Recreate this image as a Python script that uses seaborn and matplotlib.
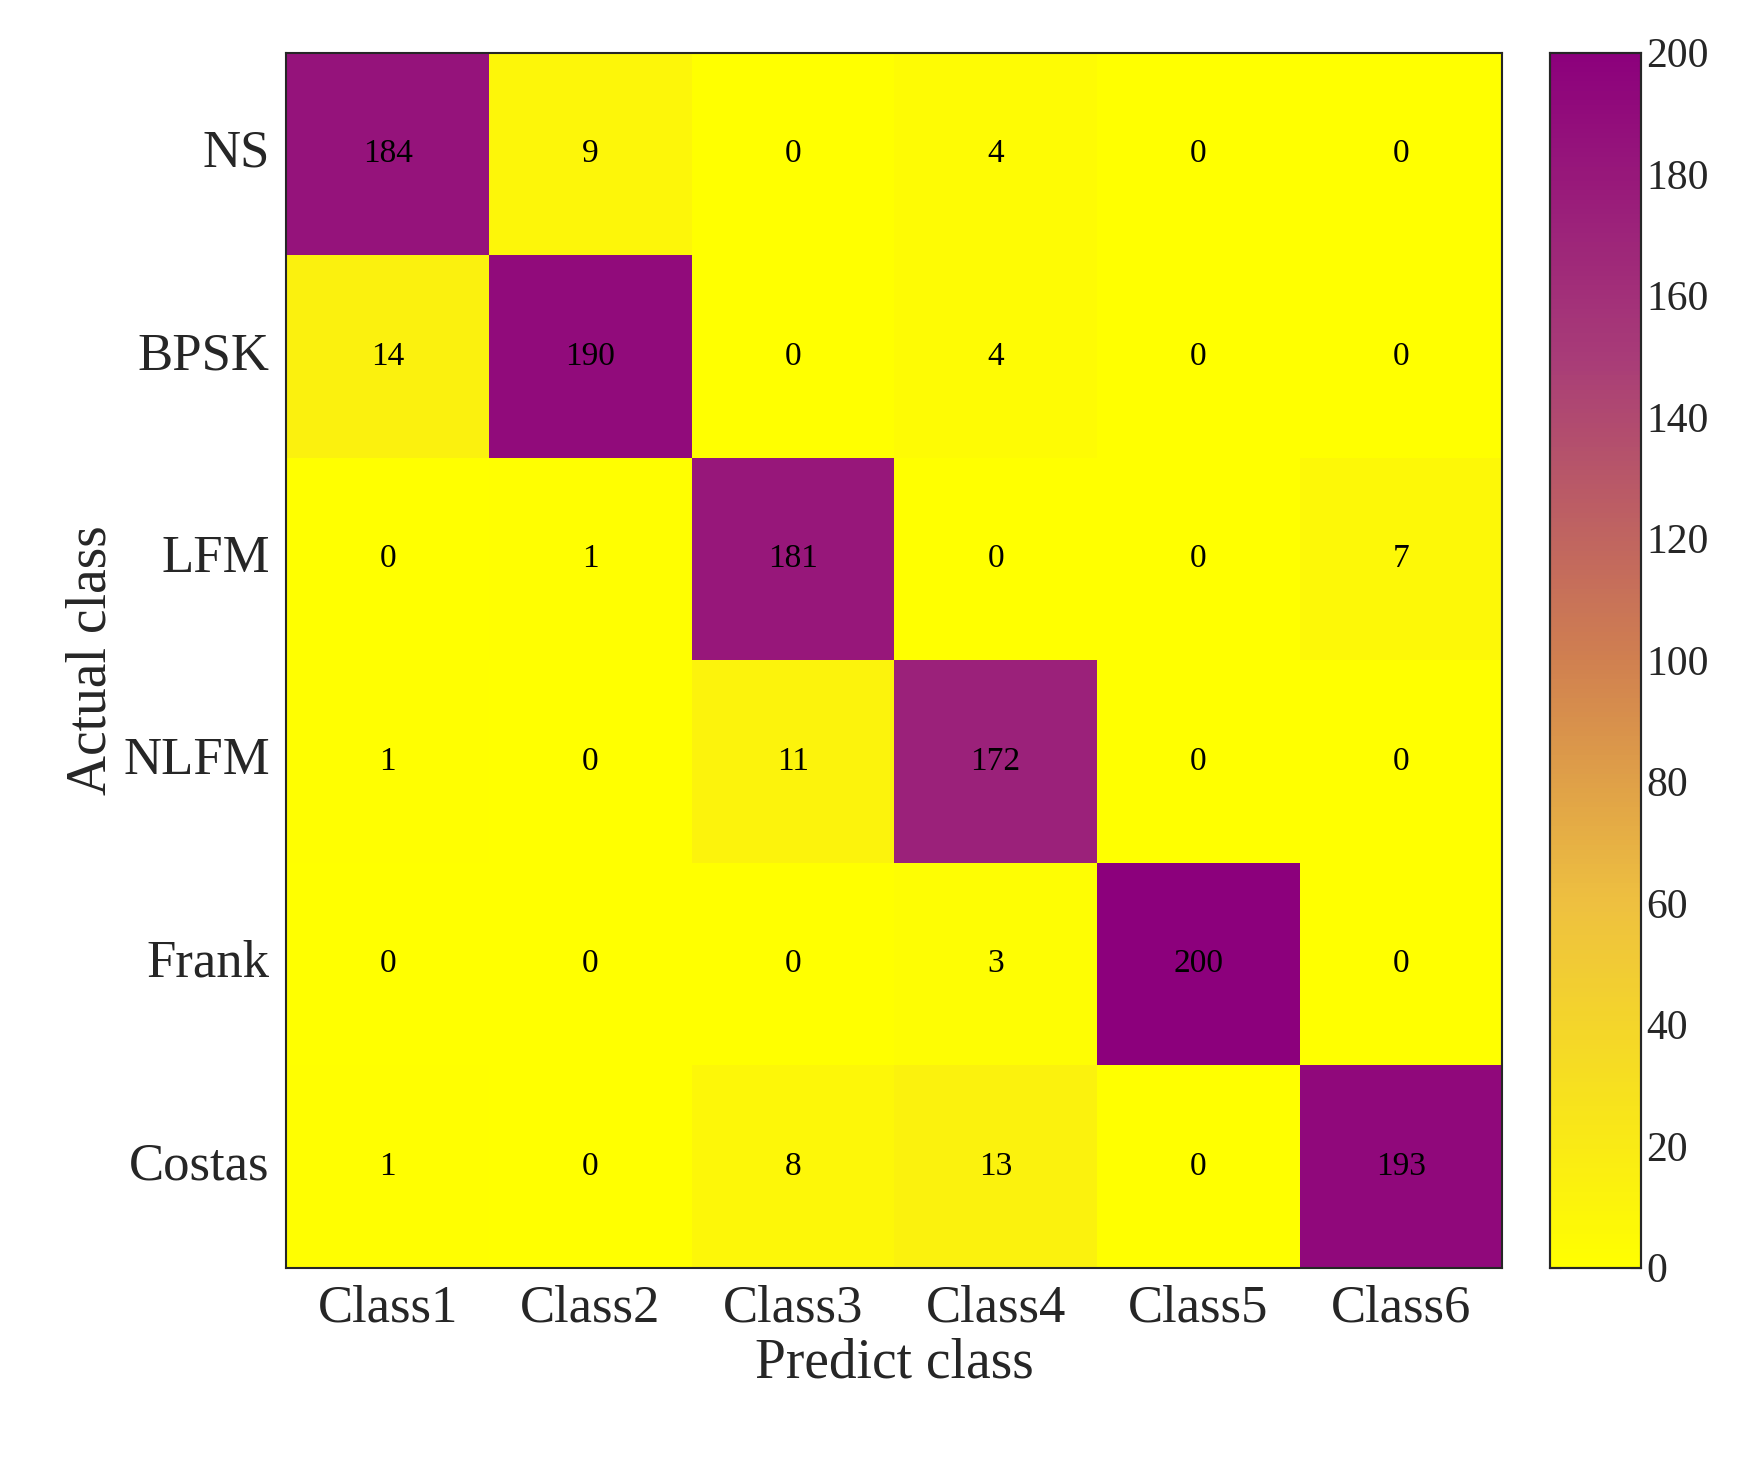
import numpy as np
import seaborn as sns
import matplotlib.pyplot as plt
from matplotlib.colors import LinearSegmentedColormap

rows = ["NS", "BPSK", "LFM", "NLFM", "Frank", "Costas"]
cols = ["Class1", "Class2", "Class3", "Class4", "Class5", "Class6"]
ns = [184, 9, 0, 4, 0, 0]
bpsk = [14, 190, 0, 4, 0, 0]
lfm = [0, 1, 181, 0, 0, 7]
nlfm = [1, 0, 11, 172, 0, 0]
frank = [0, 0, 0, 3, 200, 0]
costas = [1, 0, 8, 13, 0, 193]
data = np.array([ns, bpsk, lfm, nlfm, frank, costas])

sns.set_style("white")
plt.rcParams['font.family'] = ['Liberation Serif', 'DejaVu Serif']

cmap = LinearSegmentedColormap.from_list("ym", [(0, "#ffff00"), (0.3, "#eec040"), (0.5, "#d08050"), (0.75, "#a83c78"), (1, "#8c007c")])

fig = plt.figure(figsize=(17.57, 14.62), dpi=100)
ax = fig.add_axes([0.163, 0.133, 0.692, 0.831])
cax = fig.add_axes([0.882, 0.133, 0.052, 0.831])
sns.heatmap(data, ax=ax, cbar_ax=cax, cmap=cmap, vmin=0, vmax=200, annot=True, fmt="d",
            annot_kws={"fontsize": 24, "color": "black"}, xticklabels=cols, yticklabels=rows)
ax.set_xlabel("Predict class", fontsize=40)
ax.set_ylabel("Actual class", fontsize=40)
ax.tick_params(axis='both', labelsize=38, direction='in', length=10, width=1.5,
               top=True, right=True, bottom=True, left=True, pad=12)
ax.tick_params(axis='y', rotation=0)
for s in ax.spines.values():
    s.set_visible(True); s.set_linewidth(1.5)
cax.set_yticks(range(0, 201, 20))
cax.tick_params(labelsize=30, direction='in', length=8, left=True, right=True)
for s in cax.spines.values():
    s.set_visible(True); s.set_linewidth(1.5)
fig.savefig("out.png", dpi=100)
